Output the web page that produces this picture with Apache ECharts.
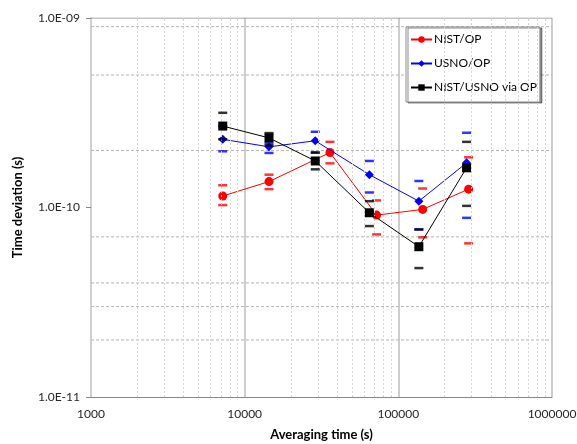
<!DOCTYPE html>
<html><head><meta charset="utf-8">
<script src="https://cdn.jsdelivr.net/npm/echarts@6/dist/echarts.min.js"></script>
<style>html,body{margin:0;padding:0;background:#fff}#c{width:577px;height:444px}</style>
</head><body><div id="c"></div>
<script>
const seriesNames = ['NIST/OP', 'USNO/OP', 'NIST/USNO via OP'];
const nistTau   = [7200, 14400, 35900, 72200, 144000, 286700];
const nistDev   = [1.15e-10, 1.37e-10, 1.95e-10, 9.12e-11, 9.77e-11, 1.25e-10];
const nistUpper = [1.31e-10, 1.49e-10, 2.22e-10, 1.09e-10, 1.26e-10, 1.84e-10];
const nistLower = [1.03e-10, 1.25e-10, 1.71e-10, 7.21e-11, 6.96e-11, 6.47e-11];
const usnoTau   = [7200, 14400, 28800, 64800, 136000, 278000];
const usnoDev   = [2.29e-10, 2.09e-10, 2.25e-10, 1.49e-10, 1.08e-10, 1.72e-10];
const usnoUpper = [2.69e-10, 2.19e-10, 2.51e-10, 1.76e-10, 1.38e-10, 2.48e-10];
const usnoLower = [1.98e-10, 1.94e-10, 1.95e-10, 1.20e-10, 7.66e-11, 8.82e-11];
const viaTau    = [7200, 14400, 28800, 64800, 136000, 278000];
const viaDev    = [2.69e-10, 2.33e-10, 1.76e-10, 9.38e-11, 6.21e-11, 1.62e-10];
const viaUpper  = [3.16e-10, 2.47e-10, 1.95e-10, 1.08e-10, 7.66e-11, 2.22e-10];
const viaLower  = [2.29e-10, 2.13e-10, 1.59e-10, 7.98e-11, 4.79e-11, 1.02e-10];
const xRange = [1000, 1000000];
const yRange = [1e-11, 1e-9];
const xTickLabels = ['1000', '10000', '100000', '1000000'];
const yTickLabels = ['1.0E-11', '1.0E-10', '1.0E-09'];
const xMinorGrid = [2000,3000,4000,5000,6000,7000,8000,9000,
                    20000,30000,40000,50000,60000,70000,80000,90000,
                    200000,300000,400000,500000,600000,700000,800000,900000];
const yMinorGrid = [2e-11, 3e-11, 4e-11, 7e-11, 2e-10, 5e-10, 9e-10];

const FONT = 'Lato';
const colors = ['#ff0000', '#0000ff', '#000000'];
const pts = (t, v) => t.map((x, i) => [x, v[i]]);
const errPts = (t, u, l) => t.map((x, i) => [x, u[i]]).concat(t.map((x, i) => [x, l[i]]));
const xLabel = v => { const k = Math.round(Math.log10(v)) - 3; return xTickLabels[k] || ''; };
const yLabel = v => { if (!(v > 0)) return yTickLabels[0]; const k = Math.round(Math.log10(v)) + 11; return yTickLabels[k] || ''; };

const chart = echarts.init(document.getElementById('c'), null, {renderer: 'canvas'});
const mainSeries = [
  {name: seriesNames[0], tau: nistTau, dev: nistDev, up: nistUpper, lo: nistLower, symbol: 'circle', size: 9},
  {name: seriesNames[1], tau: usnoTau, dev: usnoDev, up: usnoUpper, lo: usnoLower, symbol: 'diamond', size: 9},
  {name: seriesNames[2], tau: viaTau, dev: viaDev, up: viaUpper, lo: viaLower, symbol: 'rect', size: 9}
];
const series = [{
  type: 'line', name: 'vgrid', data: [], z: 1, silent: true,
  markLine: {
    silent: true, symbol: 'none', label: {show: false}, animation: false,
    data: xMinorGrid.map(v => ({xAxis: v, lineStyle: {color: '#d4d4d4', type: [2, 2], width: 1}}))
  }
}];
yMinorGrid.forEach((v, i) => {
  series.push({
    type: 'line', name: 'hgrid' + i, data: [[xRange[0], v], [xRange[1], v]], z: 1, silent: true,
    symbol: 'none', lineStyle: {color: '#b4b4b4', type: [3, 2], width: 1}
  });
});
series.push({
  type: 'line', name: 'top', data: [[xRange[0], yRange[1]], [xRange[1], yRange[1]]], z: 1, silent: true,
  symbol: 'none', lineStyle: {color: '#8c8c8c', width: 1}
});
mainSeries.forEach((s, k) => {
  series.push({
    type: 'scatter', name: s.name + ' err', data: errPts(s.tau, s.up, s.lo),
    symbol: 'rect', symbolSize: [9, 2.5], itemStyle: {color: colors[k]}, z: 3 + k, silent: true
  });
  series.push({
    type: 'line', name: s.name, data: pts(s.tau, s.dev), symbol: s.symbol, symbolSize: s.size,
    showAllSymbol: true, lineStyle: {color: colors[k], width: 1}, itemStyle: {color: colors[k]}, z: 3 + k
  });
});

chart.setOption({
  animation: false,
  backgroundColor: '#fff',
  grid: {left: 91, right: 25, top: 18, bottom: 47, containLabel: false, outerBoundsMode: 'none'},
  legend: {
    data: seriesNames, orient: 'vertical', left: 406, top: 27,
    itemWidth: 21, itemHeight: 8, itemGap: 9,
    padding: [5, 3, 7, 4],
    backgroundColor: '#fff', borderColor: '#8c8c8c', borderWidth: 1,
    shadowColor: 'rgba(0,0,0,0.45)', shadowOffsetX: 2, shadowOffsetY: 1, shadowBlur: 0,
    textStyle: {fontFamily: FONT, fontSize: 12, color: '#000', padding: [0, 0, 0, -3], lineHeight: 15}
  },
  xAxis: {
    type: 'log', logBase: 10, min: xRange[0], max: xRange[1],
    axisLine: {show: true, lineStyle: {color: '#868686', width: 1}},
    axisTick: {show: false},
    axisLabel: {formatter: xLabel, margin: 11, fontFamily: FONT, fontSize: 12, color: '#262626'},
    splitLine: {show: true, lineStyle: {color: '#bdbdbd', width: 1.5}},
    minorTick: {show: false}, minorSplitLine: {show: false},
    name: 'Averaging time (s)', nameLocation: 'middle', nameGap: 31,
    nameTextStyle: {fontFamily: FONT, fontSize: 13, fontWeight: 'bold', color: '#000'}
  },
  yAxis: {
    type: 'log', logBase: 10, min: yRange[0], max: yRange[1],
    axisLine: {show: true, lineStyle: {color: '#d0d0d0', width: 2}},
    axisTick: {show: true, length: 5, lineStyle: {color: '#868686'}},
    axisLabel: {formatter: yLabel, margin: 11, fontFamily: FONT, fontSize: 12, color: '#262626'},
    splitLine: {show: false},
    name: 'Time deviation (s)', nameLocation: 'middle', nameGap: 67, nameRotate: 90,
    nameTextStyle: {fontFamily: FONT, fontSize: 13, fontWeight: 'bold', color: '#000'}
  },
  series: series
});
</script></body></html>
